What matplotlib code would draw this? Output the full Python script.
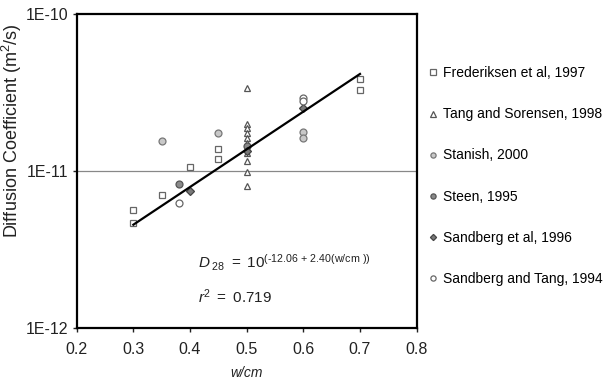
import matplotlib.pyplot as plt
import numpy as np

plt.rcParams['font.family'] = ['Liberation Sans', 'DejaVu Sans']
plt.rcParams['mathtext.fontset'] = 'custom'
plt.rcParams['mathtext.rm'] = 'Liberation Sans'
plt.rcParams['mathtext.it'] = 'Liberation Sans:italic'

# Diffusion coefficients (m^2/s) against w/cm for each study
fred_w = [0.30, 0.30, 0.35, 0.40, 0.45, 0.45, 0.70, 0.70]
fred_d = [5.65e-12, 4.69e-12, 7.03e-12, 1.06e-11, 1.38e-11, 1.20e-11, 3.86e-11, 3.31e-11]

tang_w = [0.5] * 11
tang_d = [3.38e-11, 1.99e-11, 1.88e-11, 1.75e-11, 1.62e-11, 1.51e-11,
          1.40e-11, 1.30e-11, 1.17e-11, 9.86e-12, 8.02e-12]

stanish_w = [0.35, 0.45, 0.60, 0.60]
stanish_d = [1.55e-11, 1.75e-11, 1.78e-11, 1.63e-11]

steen_w = [0.38, 0.50]
steen_d = [8.26e-12, 1.45e-11]

sandberg_w = [0.40, 0.60, 0.50]
sandberg_d = [7.5e-12, 2.52e-11, 1.35e-11]

sandtang_w = [0.38, 0.60, 0.60]
sandtang_d = [6.28e-12, 2.95e-11, 2.80e-11]

# regression D28 = 10^(a + b*w/cm)
fit_a = -12.06
fit_b = 2.40
fit_w = np.array([0.3, 0.7])

fig = plt.figure(figsize=(6.07, 3.83), dpi=100)
ax = fig.add_axes([0.1264, 0.1428, 0.56, 0.8199])

ax.plot(fit_w, 10 ** (fit_a + fit_b * fit_w), color='black', lw=1.6, zorder=3)

ms = 5
ax.plot(fred_w, fred_d, 's', ms=ms, mfc='white', mec='#666666', mew=0.9,
        label='Frederiksen et al, 1997', zorder=2)
ax.plot(tang_w, tang_d, '^', ms=ms, mfc='white', mec='#555555', mew=0.9,
        label='Tang and Sorensen, 1998', zorder=2)
ax.plot(stanish_w, stanish_d, 'o', ms=ms, mfc='#c8c8c8', mec='#777777', mew=0.9,
        label='Stanish, 2000', zorder=2)
ax.plot(steen_w, steen_d, 'o', ms=ms, mfc='#8a8a8a', mec='#555555', mew=0.9,
        label='Steen, 1995', zorder=2)
ax.plot(sandberg_w, sandberg_d, 'D', ms=4.2, mfc='#7a7a7a', mec='#444444', mew=0.9,
        label='Sandberg et al, 1996', zorder=2)
ax.plot(sandtang_w, sandtang_d, 'o', ms=ms, mfc='white', mec='#666666', mew=0.9,
        label='Sandberg and Tang, 1994', zorder=2)

ax.axhline(1e-11, color='#888888', lw=0.9, zorder=1)

ax.set_yscale('log')
ax.set_ylim(1e-12, 1e-10)
ax.set_xlim(0.2, 0.8)
ax.set_yticks([1e-12, 1e-11, 1e-10])
ax.set_yticklabels(['1E-12', '1E-11', '1E-10'])
ax.yaxis.set_minor_locator(plt.NullLocator())
ax.set_xticks(np.arange(0.2, 0.81, 0.1))
ax.set_xticklabels(['0.2', '0.3', '0.4', '0.5', '0.6', '0.7', '0.8'])
ax.tick_params(labelsize=11.5, colors='#222222', length=3, width=1, direction='out', pad=3)
ax.tick_params(axis='x', pad=7)

for s in ax.spines.values():
    s.set_linewidth(1.6)
    s.set_color('black')

ax.set_ylabel('Diffusion Coefficient (m$^2$/s)', fontsize=13, color='#222222')
ax.yaxis.set_label_coords(-0.155, 0.63)
ax.set_xlabel('w/cm', fontsize=10, style='italic', color='#222222')
ax.xaxis.set_label_coords(0.5, -0.12)

ax.text(0.357, 0.21, r'$\mathit{D}_{\ 28}\ =\ 10^{\text{(-12.06 + 2.40(w/cm ))}}$',
        transform=ax.transAxes, fontsize=11, va='center', color='#222222')
ax.text(0.357, 0.10, r'$\mathit{r}^{2}\ =\ 0.719$',
        transform=ax.transAxes, fontsize=11, va='center', color='#222222')

ax.legend(loc='upper left', bbox_to_anchor=(1.0, 0.872), frameon=False, fontsize=10,
          handlelength=0.7, handletextpad=0.35, labelspacing=1.95, borderaxespad=0.45,
          markerscale=0.75)

fig.savefig('out.png', dpi=100)
